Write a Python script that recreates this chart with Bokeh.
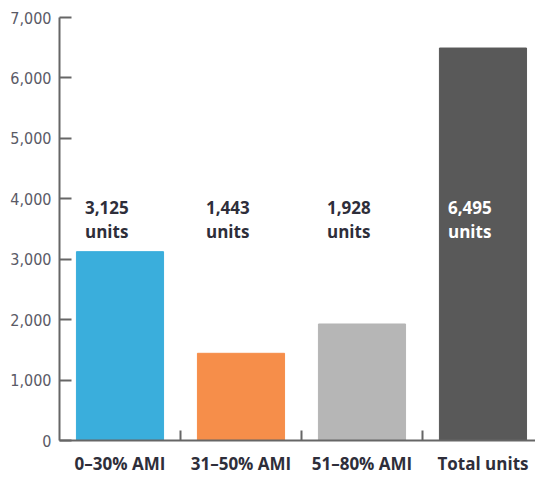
from bokeh.plotting import figure
from bokeh.models import ColumnDataSource, Range1d, FixedTicker, NumeralTickFormatter
from bokeh.core.properties import value
from bokeh.embed import file_html
from bokeh.resources import INLINE

categories = ["0–30% AMI", "31–50% AMI", "51–80% AMI", "Total units"]
units = [3125, 1443, 1928, 6495]
value_labels = ["3,125\nunits", "1,443\nunits", "1,928\nunits", "6,495\nunits"]
colors = ["#3aaedc", "#f68e4a", "#b6b6b6", "#595959"]
label_colors = ["#2e2e3a", "#2e2e3a", "#2e2e3a", "#ffffff"]
y_ticks = [0, 1000, 2000, 3000, 4000, 5000, 6000, 7000]
label_level = 4000

xs = list(range(len(categories)))
src = ColumnDataSource(dict(x=xs, top=units, color=colors, label=value_labels,
                            lcolor=label_colors, ly=[label_level] * len(xs)))

p = figure(width=535, height=477, output_backend="svg", toolbar_location=None,
           x_range=Range1d(-0.5, 3.434), y_range=Range1d(0, 7000),
           min_border_left=59, min_border_right=0, min_border_top=17, min_border_bottom=37)
p.outline_line_color = None
p.grid.grid_line_color = None
p.background_fill_color = None
p.border_fill_color = None

p.vbar(x="x", top="top", width=0.72, bottom=0, color="color", source=src)

p.text(x="x", y="ly", text="label", text_color="lcolor", source=src,
       x_offset=-35, y_offset=-3, text_baseline="top", text_align="left",
       text_font=value("Open Sans"), text_font_style="bold", text_font_size="17px",
       text_line_height=1.05)

ax = p.yaxis[0]
ax.ticker = FixedTicker(ticks=y_ticks)
ax.formatter = NumeralTickFormatter(format="0,0")
ax.axis_line_color = "#666666"
ax.axis_line_width = 2
ax.major_tick_line_color = "#666666"
ax.major_tick_line_width = 2
ax.major_tick_in = 12
ax.major_tick_out = 0
ax.minor_tick_line_color = None
ax.major_label_standoff = 8
ax.major_label_text_font = "DejaVu Sans Condensed"
ax.major_label_text_font_size = "16px"
ax.major_label_text_color = "#5a5a66"

bx = p.xaxis[0]
bx.ticker = FixedTicker(ticks=xs, minor_ticks=[0.5, 1.5, 2.5])
bx.major_label_overrides = {i: c for i, c in enumerate(categories)}
bx.axis_line_color = "#666666"
bx.axis_line_width = 2
bx.major_tick_line_color = None
bx.major_tick_in = 0
bx.major_tick_out = 0
bx.minor_tick_line_color = "#666666"
bx.minor_tick_line_width = 2
bx.minor_tick_in = 10
bx.minor_tick_out = 0
bx.major_label_standoff = 11
bx.major_label_text_font = "Open Sans"
bx.major_label_text_font_style = "bold"
bx.major_label_text_font_size = "17px"
bx.major_label_text_color = "#2e2e3a"

open("out.html", "w").write(file_html(p, INLINE))
